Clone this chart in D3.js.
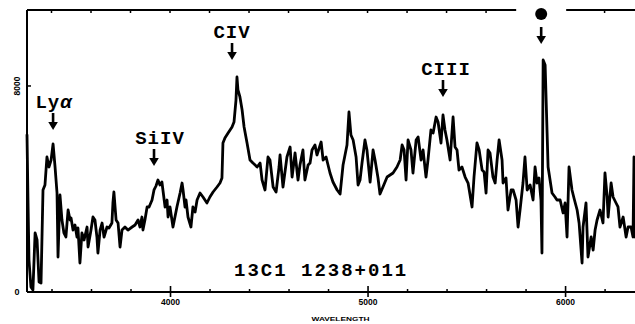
<!DOCTYPE html>
<html>
<head>
<meta charset="utf-8">
<script src="https://cdn.jsdelivr.net/npm/d3@7/dist/d3.min.js"></script>
<style>
  html, body { margin: 0; padding: 0; background: #fff; }
  svg { display: block; }
</style>
</head>
<body>
<svg id="chart" width="635" height="324"></svg>
<script>
// Spectrum of 13C1 1238+011: observed wavelength (Å) and flux (counts)
const wavelength = [
  3276,3281,3286,3296,3306,3317,3327,3337,3347,3357,3367,3377,3387,3398,3408,3418,3428,3433,3443,3453,
  3463,3473,3484,3494,3499,3509,3519,3529,3534,3544,3554,3565,3580,3585,3600,3610,3620,3630,3635,3646,
  3656,3666,3681,3691,3706,3711,3716,3727,3737,3747,3757,3772,3787,3808,3823,3838,3848,3858,3863,3873,
  3884,3894,3909,3919,3929,3939,3949,3959,3975,3985,3990,4000,4015,4035,4051,4061,4066,4076,4081,4091,
  4106,4116,4127,4137,4152,4167,4187,4202,4218,4238,4253,4263,4268,4278,4294,4314,4324,4334,4339,4344,
  4354,4365,4375,4390,4405,4420,4441,4456,4466,4481,4496,4506,4522,4537,4552,4557,4572,4592,4608,4618,
  4633,4648,4658,4673,4683,4699,4709,4719,4734,4744,4765,4775,4790,4810,4825,4846,4861,4876,4896,4906,
  4916,4927,4942,4952,4962,4972,4987,4997,5013,5028,5038,5053,5063,5078,5099,5114,5129,5149,5165,5175,
  5185,5195,5205,5220,5230,5246,5256,5271,5281,5296,5306,5321,5332,5347,5357,5372,5382,5392,5402,5418,
  5433,5443,5453,5463,5478,5494,5509,5529,5539,5554,5565,5580,5590,5600,5610,5620,5635,5646,5656,5666,
  5681,5686,5701,5711,5727,5737,5752,5762,5772,5787,5797,5808,5823,5838,5848,5858,5868,5878,5883,5889,
  5899,5909,5914,5934,5949,5959,5975,5990,6000,6010,6020,6035,6045,6061,6071,6086,6091,6106,6116,6132,
  6142,6152,6162,6177,6192,6202,6213,6218,6233,6243,6258,6268,6278,6294,6309,6319,6334,6344,6349,6354
];
const flux = [
  6096,3572,1243,194,78,2291,2019,388,349,3961,4155,5242,4854,5126,5747,4854,3844,1359,3767,2796,
  2291,2136,3184,2796,2873,2407,2602,2136,2485,1126,2291,2019,2524,1747,2407,2912,2796,2136,1514,2407,
  2679,2136,2524,2485,2679,3456,3883,2796,2679,1747,2407,2524,2407,2524,2602,2796,2524,2912,2407,2796,
  3301,3301,3572,3961,4116,4349,4155,4271,3301,3572,2912,3301,2524,3301,3844,4232,3961,3301,3572,2912,
  2524,3301,3106,3572,3844,3689,3456,3689,3883,4077,4232,4427,5786,5980,6174,6407,6601,7455,8348,7844,
  7572,7067,6407,5786,5126,5009,4854,5009,4349,3961,5242,5126,4077,3883,4854,5320,4077,5242,5630,4465,
  5397,4349,4931,5514,4349,4931,5009,5514,5708,5320,5825,5126,5242,4621,4271,3961,3805,4931,5708,6989,
  6096,5902,5242,4155,4349,5009,5902,5514,4271,5514,5126,4427,3805,4077,4465,4543,4621,4854,5126,5708,
  5514,4349,5902,5514,4621,5902,6019,5126,5514,4465,5126,6290,6174,6795,6601,5786,6873,6290,5902,5126,
  6795,5630,5514,4737,4854,4465,4232,3301,4465,5786,5514,4737,4660,3844,5514,5397,4465,4232,5126,5902,
  5126,4232,4427,3184,3961,3961,3572,2524,3184,4232,5242,3961,4155,3572,4854,4232,4427,3572,1514,9009,
  8814,6174,4854,3844,3689,3572,3572,3068,3456,2136,4854,3961,3650,3184,2679,1126,2524,3456,1359,2136,
  1631,2407,2796,3184,2679,4621,3689,2912,4232,3689,3456,3301,2524,2912,2136,2524,2524,2136,5242,2136
];

// Identified emission lines: name, wavelength (Å), arrow-tip flux
const lineNames = ["Ly\u03b1", "SiIV", "CIV", "CIII"];
const lineWavelengths = [3408, 3919, 4314, 5382];
const lineTipFlux = [6290, 4893, 9009, 7572];

// Feature marked with a dot (night-sky / atmospheric)
const dotWavelength = 5879;
const dotTipFlux = 9630;

// Axis ticks
const majorTicks = [4000, 5000, 6000];
const minorTicks = d3.range(3400, 6400, 200);
const yTicks = [0, 8000];
const yTickLabels = ["0", "8000"];

const objectName = "13C1 1238+011";
const xTitle = "WAVELENGTH";

const svg = d3.select("#chart");
const W = 635, H = 324;

const x = d3.scaleLinear().domain([3276, 6354]).range([27, 635]);
const y = d3.scaleLinear().domain([0, 10950]).range([292, 10]);

const mono = "'Liberation Mono', 'DejaVu Sans Mono', monospace";

// Frame: left axis, top line (broken around the dot), bottom axis
svg.append("line")
  .attr("x1", x(3276)).attr("x2", x(3276))
  .attr("y1", y(10950)).attr("y2", y(0))
  .attr("stroke", "#000").attr("stroke-width", 2);

const gapHalf = 25;
svg.append("line")
  .attr("x1", x(3276)).attr("x2", x(dotWavelength) - gapHalf)
  .attr("y1", y(10950)).attr("y2", y(10950))
  .attr("stroke", "#000").attr("stroke-width", 2);
svg.append("line")
  .attr("x1", x(dotWavelength) + gapHalf).attr("x2", W)
  .attr("y1", y(10950)).attr("y2", y(10950))
  .attr("stroke", "#000").attr("stroke-width", 2);

// top minor ticks
svg.append("g").selectAll("line").data(minorTicks.filter(d => Math.abs(x(d) - x(dotWavelength)) > gapHalf))
  .join("line")
  .attr("x1", d => x(d)).attr("x2", d => x(d))
  .attr("y1", y(10950)).attr("y2", y(10950) + 3)
  .attr("stroke", "#000").attr("stroke-width", 1.5);

// Bottom axis
const xAxis = d3.axisBottom(x).tickValues(majorTicks).tickSize(5).tickPadding(2)
  .tickFormat(d3.format("d"));
const gx = svg.append("g").attr("transform", `translate(0,${y(0)})`).call(xAxis);
gx.select(".domain").attr("stroke-width", 2).attr("d", `M${x(3276)},0H${W}`);
gx.selectAll(".tick line").attr("y1", -6).attr("stroke-width", 1.6);
gx.selectAll(".tick text")
  .attr("font-family", "'Liberation Sans', Arial, sans-serif")
  .attr("font-weight", "bold").attr("font-size", 8.5).attr("fill", "#000");

const xMinor = d3.axisBottom(x).tickValues(minorTicks.filter(d => !majorTicks.includes(d)))
  .tickSize(0).tickFormat("");
const gm = svg.append("g").attr("transform", `translate(0,${y(0)})`).call(xMinor);
gm.select(".domain").remove();
gm.selectAll(".tick line").attr("y1", -3).attr("y2", 0).attr("stroke-width", 1.5);

svg.append("text")
  .attr("x", x(5000) - 27).attr("y", 321)
  .attr("text-anchor", "middle")
  .attr("font-family", "'Liberation Sans', Arial, sans-serif")
  .attr("font-weight", "bold").attr("font-size", 6)
  .attr("textLength", 58).attr("lengthAdjust", "spacingAndGlyphs")
  .text(xTitle);

// Left axis ticks and labels
svg.append("g").selectAll("line").data(yTicks).join("line")
  .attr("x1", x(3276)).attr("x2", x(3276) + 4)
  .attr("y1", d => y(d)).attr("y2", d => y(d))
  .attr("stroke", "#000").attr("stroke-width", 1.5);

svg.append("text")
  .attr("x", 17).attr("y", y(0) + 3)
  .attr("text-anchor", "middle")
  .attr("font-family", "'Liberation Sans', Arial, sans-serif")
  .attr("font-weight", "bold").attr("font-size", 9)
  .text(yTickLabels[0]);
svg.append("text")
  .attr("transform", `translate(20,${y(8000)}) rotate(-90)`)
  .attr("text-anchor", "middle")
  .attr("font-family", "'Liberation Sans', Arial, sans-serif")
  .attr("font-weight", "bold").attr("font-size", 8.5)
  .text(yTickLabels[1]);

// Spectrum trace
const pts = wavelength.map((w, i) => [w, flux[i]]);
svg.append("path")
  .datum(pts)
  .attr("fill", "none")
  .attr("stroke", "#000")
  .attr("stroke-width", 2.8)
  .attr("stroke-linejoin", "round")
  .attr("stroke-linecap", "round")
  .attr("d", d3.line().x(d => x(d[0])).y(d => y(d[1])));

// Down-arrow helper: tip at (cx, ty)
function arrow(cx, ty) {
  const g = svg.append("g");
  g.append("line")
    .attr("x1", cx).attr("x2", cx)
    .attr("y1", ty - 17).attr("y2", ty - 6)
    .attr("stroke", "#000").attr("stroke-width", 2.6);
  g.append("path")
    .attr("d", `M${cx - 4.8},${ty - 8}L${cx + 4.8},${ty - 8}L${cx},${ty}Z`)
    .attr("fill", "#000");
}

// Line identifications
const labelDx = [1, 6, 0, 3];
lineNames.forEach((name, i) => {
  const cx = x(lineWavelengths[i]);
  const ty = y(lineTipFlux[i]);
  arrow(cx, ty);
  const t = svg.append("text")
    .attr("x", cx + labelDx[i]).attr("y", ty - 22)
    .attr("text-anchor", "middle")
    .attr("font-family", mono)
    .attr("font-weight", "bold").attr("font-size", 19)
    .attr("letter-spacing", 1);
  if (name.startsWith("Ly")) {
    t.append("tspan").text("Ly");
    t.append("tspan").attr("font-style", "italic").text("\u03b1");
  } else {
    t.text(name);
  }
});

// Dot marker with arrow
{
  const cx = x(dotWavelength);
  const ty = y(dotTipFlux);
  arrow(cx, ty);
  svg.append("circle").attr("cx", cx).attr("cy", ty - 30).attr("r", 6).attr("fill", "#000");
}

// Object name
svg.append("text")
  .attr("x", x(4765)).attr("y", 276)
  .attr("text-anchor", "middle")
  .attr("font-family", mono)
  .attr("font-weight", "bold").attr("font-size", 19)
  .attr("letter-spacing", 2)
  .text(objectName);
</script>
</body>
</html>
